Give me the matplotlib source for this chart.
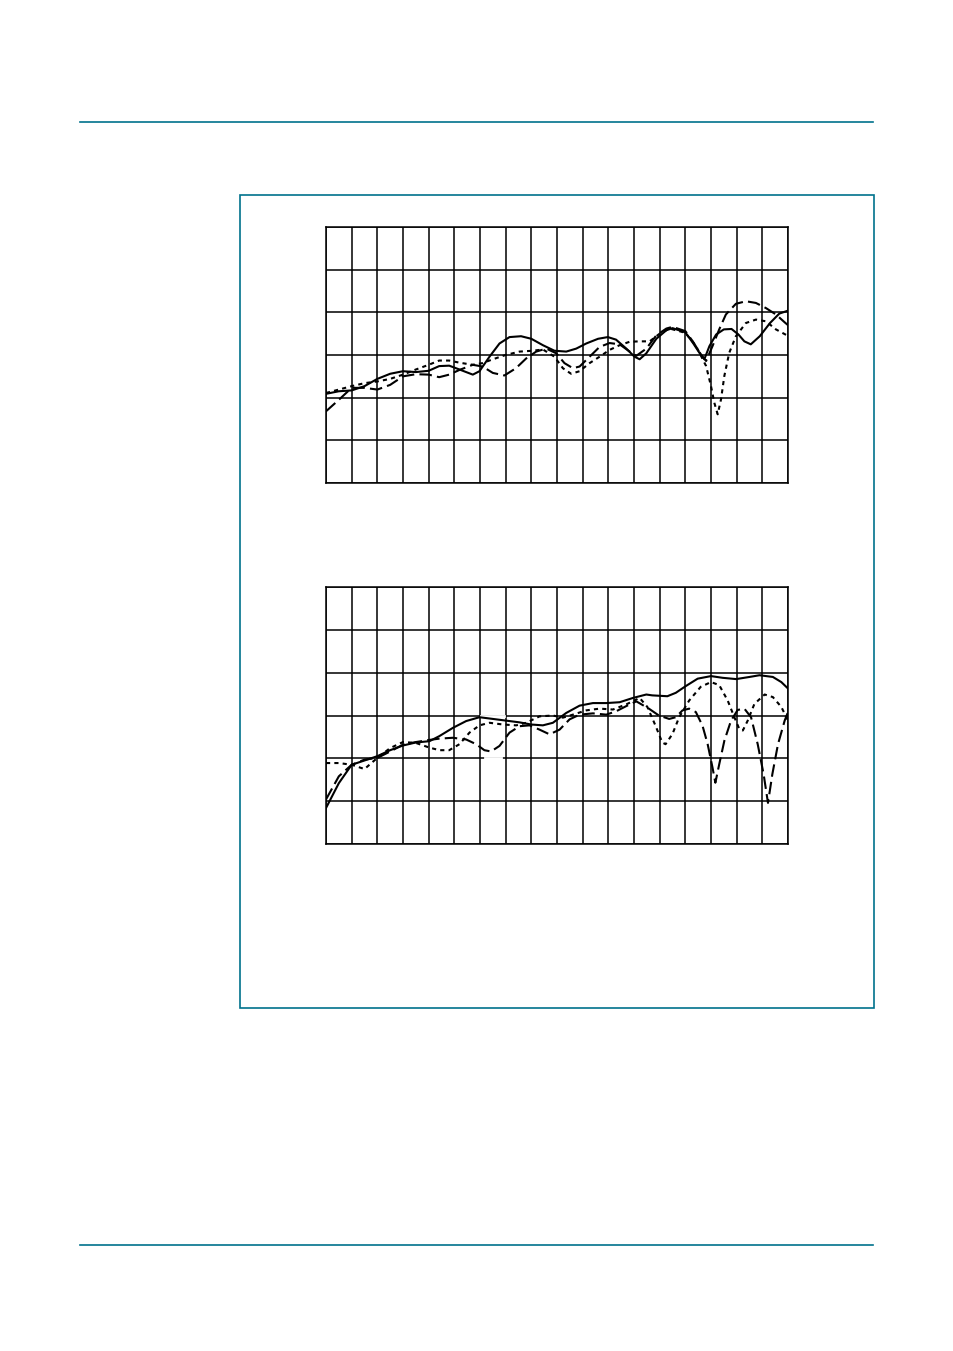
import numpy as np
import matplotlib
matplotlib.use("Agg")
import matplotlib.pyplot as plt
from matplotlib.lines import Line2D
from matplotlib.patches import Rectangle

# values, x in grid columns (0..18), y in grid rows (0..6)
top_solid_x = [0, 0.5, 1, 1.5, 2, 2.5, 3, 3.5, 4, 4.41, 4.8, 5.2, 5.72, 5.98, 6.37, 6.76, 7.15,
               7.6, 8.0, 8.45, 8.9, 9.36, 9.75, 10.14, 10.6, 10.98, 11.3, 11.7, 12.02, 12.22,
               12.48, 12.87, 13.26, 13.5, 14, 14.3, 14.55, 14.74, 14.94, 15.2, 15.5, 15.8,
               16.07, 16.3, 16.55, 16.9, 17.3, 17.66, 18]
top_solid_y = [2.09, 2.15, 2.17, 2.27, 2.44, 2.56, 2.62, 2.60, 2.63, 2.74, 2.75, 2.66, 2.54, 2.62,
               2.96, 3.27, 3.42, 3.44, 3.38, 3.23, 3.10, 3.08, 3.15, 3.27, 3.38, 3.42, 3.36, 3.15,
               2.96, 2.90, 3.04, 3.38, 3.58, 3.63, 3.53, 3.28, 3.05, 2.90, 3.21, 3.48, 3.60, 3.61,
               3.48, 3.32, 3.25, 3.44, 3.75, 3.97, 4.04]

top_dash_x = [0, 0.5, 1, 1.5, 2, 2.5, 3, 3.5, 4, 4.41, 4.8, 5.2, 5.72, 6.1, 6.5, 6.95, 7.4, 7.8,
              8.19, 8.58, 8.97, 9.29, 9.62, 9.88, 10.27, 10.66, 11.05, 11.44, 11.83, 12.09,
              12.48, 12.87, 13.26, 13.5, 14, 14.29, 14.61, 14.81, 15.06, 15.32, 15.58, 15.97,
              16.36, 16.75, 17.14, 17.53, 17.9, 18]
top_dash_y = [1.68, 1.95, 2.23, 2.23, 2.19, 2.30, 2.50, 2.55, 2.54, 2.48, 2.54, 2.65, 2.77, 2.73,
              2.58, 2.52, 2.69, 2.92, 3.08, 3.15, 3.04, 2.81, 2.69, 2.73, 2.96, 3.19, 3.28, 3.25,
              3.08, 2.98, 3.15, 3.46, 3.62, 3.66, 3.56, 3.32, 3.01, 2.86, 3.21, 3.60, 3.95, 4.20,
              4.26, 4.22, 4.10, 3.95, 3.75, 3.70]

top_dot_x = [0, 0.5, 1, 1.5, 2, 2.5, 3, 3.5, 4, 4.41, 4.8, 5.2, 5.72, 6.1, 6.5, 7.0, 7.54, 8.06,
             8.45, 8.9, 9.23, 9.55, 9.88, 10.27, 10.66, 11.05, 11.44, 11.83, 12.22, 12.61, 13.0,
             13.39, 14, 14.42, 14.81, 15.0, 15.13, 15.26, 15.39, 15.52, 15.71, 15.97, 16.36,
             16.75, 17.14, 17.53, 17.9, 18]
top_dot_y = [2.11, 2.19, 2.27, 2.34, 2.38, 2.44, 2.54, 2.66, 2.77, 2.87, 2.87, 2.82, 2.77, 2.81,
             2.90, 3.00, 3.08, 3.10, 3.13, 2.96, 2.69, 2.56, 2.62, 2.81, 2.96, 3.12, 3.23, 3.31,
             3.32, 3.32, 3.50, 3.62, 3.52, 3.21, 2.74, 2.27, 1.88, 1.61, 1.96, 2.51, 3.05, 3.44,
             3.75, 3.83, 3.79, 3.60, 3.48, 3.45]

bot_solid_x = [0, 0.5, 1, 1.5, 2, 2.5, 3, 3.5, 4.03, 4.42, 4.94, 5.46, 5.98, 6.5, 7.02, 7.54,
               7.99, 8.45, 8.84, 9.36, 9.88, 10.4, 10.92, 11.44, 11.96, 12.48, 12.71, 13.3,
               13.63, 14, 14.48, 15, 15.45, 15.98, 16.5, 16.89, 17.41, 17.74, 18]
bot_solid_y = [0.84, 1.42, 1.85, 1.95, 2.05, 2.19, 2.30, 2.37, 2.40, 2.52, 2.71, 2.87, 2.96,
               2.92, 2.88, 2.84, 2.79, 2.77, 2.83, 3.06, 3.23, 3.29, 3.29, 3.31, 3.41, 3.49,
               3.47, 3.45, 3.53, 3.68, 3.86, 3.92, 3.88, 3.85, 3.90, 3.94, 3.90, 3.78, 3.63]

bot_dash_x = [0, 0.5, 1, 1.5, 2, 2.5, 3, 3.5, 4.03, 4.42, 4.94, 5.46, 5.85, 6.17, 6.43, 6.76,
              7.15, 7.54, 7.93, 8.32, 8.71, 9.1, 9.49, 9.88, 10.4, 10.92, 11.31, 11.7, 12.09,
              12.58, 12.97, 13.37, 13.63, 13.89, 14.15, 14.41, 14.67, 14.87, 15.06, 15.17,
              15.32, 15.52, 15.78, 16.04, 16.3, 16.56, 16.82, 17.05, 17.22, 17.39, 17.61,
              17.87, 18]
bot_dash_y = [1.04, 1.58, 1.85, 1.97, 2.01, 2.16, 2.32, 2.38, 2.43, 2.46, 2.48, 2.44, 2.33,
              2.19, 2.16, 2.29, 2.60, 2.75, 2.77, 2.67, 2.56, 2.67, 2.91, 3.02, 3.05, 3.02,
              3.10, 3.22, 3.33, 3.16, 3.00, 2.92, 2.96, 3.12, 3.16, 3.08, 2.76, 2.33, 1.78,
              1.43, 1.86, 2.41, 2.88, 3.13, 3.16, 2.96, 2.33, 1.63, 0.96, 1.63, 2.33, 2.88, 3.08]

bot_dot_x = [0, 0.5, 1, 1.5, 2, 2.5, 3, 3.5, 4.03, 4.42, 4.8, 5.2, 5.59, 5.98, 6.37, 6.89, 7.41,
             7.8, 8.32, 8.84, 9.23, 9.62, 10.14, 10.66, 11.18, 11.7, 12.22, 12.52, 12.84, 13.1,
             13.23, 13.5, 13.76, 14.15, 14.6, 15.0, 15.32, 15.65, 15.91, 16.1, 16.24, 16.43,
             16.69, 17.09, 17.41, 17.74, 18]
bot_dot_y = [1.89, 1.89, 1.85, 1.75, 2.01, 2.24, 2.38, 2.36, 2.25, 2.19, 2.19, 2.33, 2.60, 2.77,
             2.83, 2.79, 2.77, 2.83, 2.98, 3.00, 2.95, 3.02, 3.12, 3.16, 3.14, 3.26, 3.41, 3.20,
             2.76, 2.37, 2.33, 2.57, 2.96, 3.35, 3.67, 3.78, 3.71, 3.35, 2.96, 2.69, 2.65, 2.88,
             3.27, 3.49, 3.43, 3.20, 2.88]

n_cols = 18
n_rows = 6
teal = "#00728c"

W, H = 954, 1351
fig = plt.figure(figsize=(W / 100, H / 100), dpi=100)


def px_axes(x0, y0, x1, y1):
    return fig.add_axes([x0 / W, 1 - y1 / H, (x1 - x0) / W, (y1 - y0) / H])


def draw_panel(ax, series):
    ax.set_xlim(0, n_cols)
    ax.set_ylim(0, n_rows)
    ax.set_xticks(np.arange(n_cols + 1))
    ax.set_yticks(np.arange(n_rows + 1))
    ax.tick_params(length=0, labelbottom=False, labelleft=False)
    ax.grid(True, color="black", lw=1.1)
    for s in ax.spines.values():
        s.set_color("black")
        s.set_linewidth(1.1)
    for x, y, ls in series:
        ax.plot(x, y, color="black", lw=1.5, linestyle=ls, solid_joinstyle="round",
                solid_capstyle="round", zorder=3)


ax1 = px_axes(326, 227, 788, 483)
draw_panel(ax1, [(top_solid_x, top_solid_y, "-"),
                 (top_dash_x, top_dash_y, (0, (6, 2.5))),
                 (top_dot_x, top_dot_y, (0, (2, 2)))])

ax2 = px_axes(326, 587, 788, 844)
# small breaks in the grid of the lower chart, as in the original artwork
ax2.plot([6.05, 6.95], [3, 3], color="white", lw=2, zorder=2.5)
ax2.plot([6.2, 6.8], [2, 2], color="white", lw=2, zorder=2.5)
draw_panel(ax2, [(bot_solid_x, bot_solid_y, "-"),
                 (bot_dash_x, bot_dash_y, (0, (6, 2.5))),
                 (bot_dot_x, bot_dot_y, (0, (2, 2)))])

# page decoration: header/footer rules and the figure frame
fig.add_artist(Line2D([80 / W, 873 / W], [1 - 122 / H, 1 - 122 / H], color=teal, lw=1.2))
fig.add_artist(Line2D([80 / W, 873 / W], [1 - 1245 / H, 1 - 1245 / H], color=teal, lw=1.2))
fig.add_artist(Rectangle((240 / W, 1 - 1008 / H), (874 - 240) / W, (1008 - 195) / H,
                         fill=False, edgecolor=teal, lw=1.2))

fig.savefig("out.png", dpi=100)
